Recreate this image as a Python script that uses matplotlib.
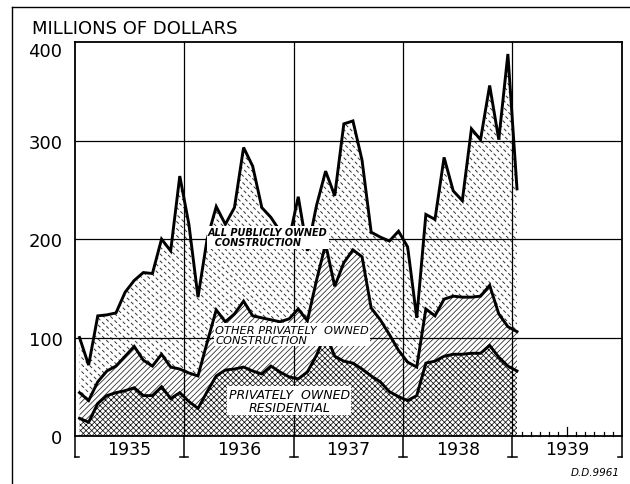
import numpy as np
import matplotlib.pyplot as plt
from matplotlib.lines import Line2D
from matplotlib.collections import LineCollection

# monthly values, Jan 1935 .. Jan 1939 (millions of dollars)
residential = [18, 14, 33, 41, 44, 46, 49, 41, 41, 50, 38, 44,
               35, 28, 45, 61, 67, 68, 70, 66, 63, 71, 65, 60,
               58, 65, 82, 104, 81, 76, 74, 68, 61, 55, 45, 40,
               36, 41, 74, 76, 81, 83, 83, 84, 84, 92, 80, 71,
               66]
private_total = [44, 36, 55, 66, 71, 81, 91, 77, 71, 83, 70, 68,
                 64, 61, 95, 128, 116, 124, 137, 122, 120, 118, 116, 119,
                 129, 117, 158, 195, 152, 176, 189, 182, 130, 118, 103, 87,
                 75, 70, 129, 122, 139, 142, 141, 141, 142, 153, 124, 111,
                 106]
all_construction = [100, 72, 122, 123, 125, 146, 158, 166, 165, 200, 188, 264,
                    215, 141, 200, 233, 215, 232, 293, 274, 232, 222, 208, 200,
                    243, 188, 234, 269, 244, 317, 320, 280, 207, 202, 198, 208,
                    192, 120, 225, 220, 283, 249, 239, 312, 301, 356, 301, 388,
                    251]
years = ["1935", "1936", "1937", "1938", "1939"]
y_ticks = [0, 100, 200, 300, 400]

plt.rcParams['hatch.linewidth'] = 0.55

x = np.arange(len(all_construction)) + 0.5

fig = plt.figure(figsize=(6.3, 4.85), dpi=100)
ax = fig.add_axes([0.119, 0.099, 0.868, 0.812])
ax.set_xlim(0, 60)
ax.set_ylim(0, 400)

# stacked hatched areas
ax.fill_between(x, 0, residential, facecolor='white', edgecolor='#111111',
                hatch='xxxxxx', linewidth=0, zorder=1)
ax.fill_between(x, residential, private_total, facecolor='white', edgecolor='#222222',
                hatch='//////', linewidth=0, zorder=1)
pub = ax.fill_between(x, private_total, all_construction, facecolor='white',
                      linewidth=0, zorder=1)

# broken-dash texture for the public area, clipped to its outline
px_per_month = 0.868 * 630 / 60
px_per_unit = 0.812 * 485 / 400
steep = px_per_month / px_per_unit
step = 7.0 / px_per_month
segs = [[(c, 400), (c + 400 / steep, 0)] for c in np.arange(-50, 60, step)]
dash = LineCollection(segs, colors='#333333', linewidths=0.7,
                      linestyles=[(0, (3.5, 2.5))], zorder=1.5)
ax.add_collection(dash)
dash.set_clip_path(pub.get_paths()[0], ax.transData)

for series in (residential, private_total, all_construction):
    ax.plot(x, series, color='black', lw=2.1, solid_joinstyle='miter', zorder=3)

# grid: hundreds and year boundaries
for v in y_ticks[1:-1]:
    ax.axhline(v, color='black', lw=0.9, zorder=2)
for b in range(12, 60, 12):
    ax.axvline(b, color='black', lw=0.9, zorder=2)

for s in ax.spines.values():
    s.set_linewidth(1.3)

ax.set_yticks(y_ticks)
ax.set_yticklabels([str(v) for v in y_ticks], fontsize=13)
ax.tick_params(axis='y', length=0, pad=9)
ax.get_yticklabels()[-1].set_va('top')
ax.set_xticks([])

# year brackets below the axis
tr = ax.get_xaxis_transform()
depth = -0.053
foot = 0.45
for b in range(0, 61, 12):
    ax.plot([b, b], [0, depth], color='black', lw=1.1, transform=tr, clip_on=False)
    left = b - foot if b > 0 else b
    right = b + foot if b < 60 else b
    ax.plot([left, right], [depth, depth], color='black', lw=1.1, transform=tr, clip_on=False)
for i, yr in enumerate(years):
    ax.text(12 * i + 6, -0.034, yr, transform=tr, ha='center', va='center', fontsize=12.5)

# monthly ticks for 1939
for m in range(49, 60):
    h = 0.022 if m == 54 else 0.011
    ax.plot([m, m], [0, h], color='black', lw=0.9, transform=tr, clip_on=False)

# area labels
box = dict(facecolor='white', edgecolor='none', pad=1.0)
ax.text(14.6, 202, "ALL PUBLICLY OWNED\n  CONSTRUCTION", ha='left', va='center',
        fontsize=7.0, style='italic', weight='bold', linespacing=1.05, bbox=box, zorder=4)
ax.text(15.4, 103, "OTHER PRIVATELY  OWNED\nCONSTRUCTION", ha='left', va='center',
        fontsize=8.2, style='italic', linespacing=1.0, bbox=box, zorder=4)
ax.text(23.5, 36, "PRIVATELY  OWNED\nRESIDENTIAL", ha='center', va='center',
        fontsize=9, style='italic', linespacing=1.0, bbox=box, zorder=4)

fig.text(0.051, 0.940, "MILLIONS OF DOLLARS", fontsize=13, va='center', ha='left')
fig.text(0.984, 0.025, "D.D.9961", fontsize=7.5, style='italic', ha='right', va='center')

# outer frame (top and left)
fig.add_artist(Line2D([0.019, 1.0], [0.9835, 0.9835], color='black', lw=1.0))
fig.add_artist(Line2D([0.019, 0.019], [0.0, 0.9835], color='black', lw=1.0))

fig.savefig('out.png', dpi=100)
